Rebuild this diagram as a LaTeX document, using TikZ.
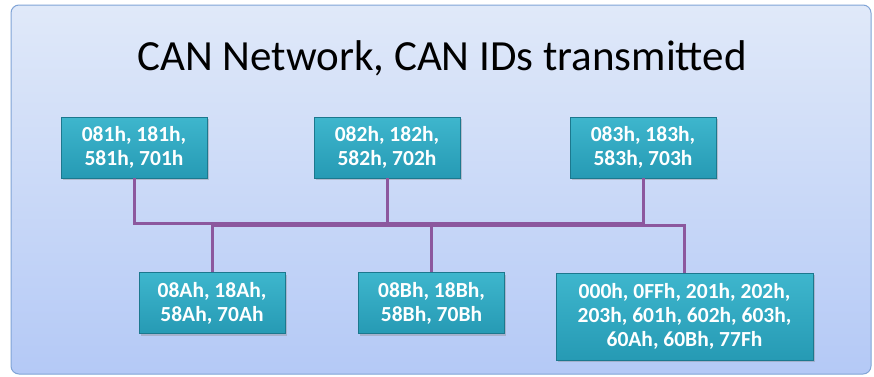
\documentclass[tikz,border=0pt]{standalone}
\usepackage{fontspec}
\setmainfont{Carlito}
\usetikzlibrary{shadows}
\definecolor{panelTop}{RGB}{224,233,249}
\definecolor{panelBot}{RGB}{180,201,246}
\definecolor{panelEdge}{RGB}{128,164,214}
\definecolor{tealTop}{RGB}{62,182,205}
\definecolor{tealBot}{RGB}{38,154,180}
\definecolor{tealEdge}{RGB}{28,120,142}
\definecolor{busColor}{RGB}{140,88,158}
\tikzset{
  idbox/.style={rectangle, draw=tealEdge, line width=0.8pt, top color=tealTop, bottom color=tealBot,
    text=white, font=\bfseries\fontsize{21.5}{24}\selectfont, align=center, inner sep=0pt,
    minimum width=146pt, minimum height=61pt,
    drop shadow={shadow xshift=1.5pt, shadow yshift=-2pt, opacity=0.35}},
  bus/.style={draw=busColor, line width=3pt},
}
\begin{document}
\begin{tikzpicture}[x=1pt,y=-1pt]
\useasboundingbox (0,0) rectangle (874,376);
\fill[white] (0,0) rectangle (874,376);
\path[draw=panelEdge, line width=1pt, top color=panelTop, bottom color=panelBot, rounded corners=8pt]
  (11,5) rectangle (871,374);
\node[font=\fontsize{43}{48}\selectfont, text=black] (title) at (442,58) {CAN Network, CAN IDs transmitted};
\node[idbox] (b1) at (134,147.5) {081h, 181h,\\581h, 701h};
\node[idbox] (b2) at (387,147.5) {082h, 182h,\\582h, 702h};
\node[idbox] (b3) at (643,147.5) {083h, 183h,\\583h, 703h};
\node[idbox] (b4) at (212,303) {08Ah, 18Ah,\\58Ah, 70Ah};
\node[idbox] (b5) at (431.5,303) {08Bh, 18Bh,\\58Bh, 70Bh};
\node[idbox, minimum width=257pt, minimum height=87pt] (b6) at (684.5,316.5) {000h, 0FFh, 201h, 202h,\\203h, 601h, 602h, 603h,\\60Ah, 60Bh, 77Fh};
\coordinate (busTop) at (0,223.5);
\coordinate (busBot) at (0,225.5);
\draw[bus] (b1.south) -- (b1.south |- busTop) -- (b3.south |- busTop) -- (b3.south);
\draw[bus] (b2.south) -- (b2.south |- busTop);
\draw[bus] (b4.north) -- (b4.north |- busBot) -- (b6.north |- busBot) -- (b6.north);
\draw[bus] (b5.north) -- (b5.north |- busBot);
\end{tikzpicture}
\end{document}
